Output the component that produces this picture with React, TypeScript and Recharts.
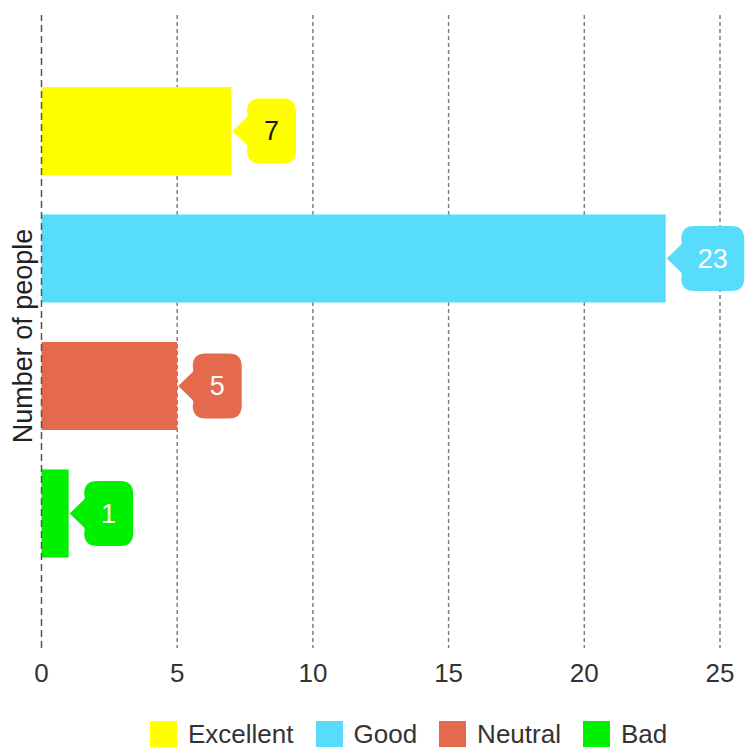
import React from 'react';
import {
  BarChart,
  Bar,
  Cell,
  XAxis,
  YAxis,
  CartesianGrid,
  ReferenceLine,
  LabelList,
  Legend,
} from 'recharts';

const categories = ['Excellent', 'Good', 'Neutral', 'Bad'];
const counts = [7, 23, 5, 1];
const barColors = ['#FFFF00', '#57DDFB', '#E5694C', '#00F000'];
const labelTextColors = ['#1a1a1a', '#ffffff', '#ffffff', '#ffffff'];
const xTicks = [0, 5, 10, 15, 20, 25];
const gridValues = [5, 10, 15, 20, 25];

const data = categories.map((name, i) => ({ name, count: counts[i] }));

const FONT = '"Liberation Sans", Arial, sans-serif';

// speech-bubble style value label pointing back at the bar end
function BubbleLabel(props: any) {
  const { x, y, width, height, value, index } = props;
  const bx = Number(x) + Number(width);
  const cy = Number(y) + Number(height) / 2;
  const digits = String(value).length;
  const w = 35 + 14 * digits;
  const h = 65;
  const r = 13;
  const left = bx + 15.5;
  const right = left + w;
  const top = cy - h / 2;
  const bottom = cy + h / 2;
  const d = [
    `M ${bx + 1} ${cy}`,
    `L ${left} ${cy - 14}`,
    `Q ${left + 1} ${cy - 16} ${left} ${cy - 20}`,
    `L ${left} ${top + r}`,
    `Q ${left} ${top} ${left + r} ${top}`,
    `L ${right - r} ${top}`,
    `Q ${right} ${top} ${right} ${top + r}`,
    `L ${right} ${bottom - r}`,
    `Q ${right} ${bottom} ${right - r} ${bottom}`,
    `L ${left + r} ${bottom}`,
    `Q ${left} ${bottom} ${left} ${bottom - r}`,
    `L ${left} ${cy + 20}`,
    `Q ${left + 1} ${cy + 16} ${left} ${cy + 14}`,
    'Z',
  ].join(' ');
  return (
    <g>
      <path d={d} fill={barColors[index]} />
      <text
        x={left + w / 2}
        y={cy}
        textAnchor="middle"
        dominantBaseline="central"
        fontSize={27}
        fontFamily={FONT}
        fill={labelTextColors[index]}
      >
        {value}
      </text>
    </g>
  );
}

function LegendRow() {
  return (
    <div
      style={{
        display: 'flex',
        alignItems: 'center',
        paddingLeft: 150,
        paddingTop: 24,
        height: 52,
        boxSizing: 'border-box',
        fontFamily: FONT,
        fontSize: 26,
        color: '#333',
      }}
    >
      {categories.map((name, i) => (
        <div key={name} style={{ display: 'flex', alignItems: 'center', marginRight: 22 }}>
          <span
            style={{
              display: 'inline-block',
              width: 27,
              height: 26,
              background: barColors[i],
              marginRight: 11,
            }}
          />
          <span style={{ lineHeight: '26px' }}>{name}</span>
        </div>
      ))}
    </div>
  );
}

function YTitle() {
  return (
    <text
      x={32}
      y={336}
      transform="rotate(-90 32 336)"
      textAnchor="middle"
      fontSize={27}
      fontFamily={FONT}
      fill="#222"
    >
      Number of people
    </text>
  );
}

export default function App() {
  return (
    <div style={{ position: 'absolute', left: 0, top: 0, fontFamily: FONT }}>
      <BarChart
        width={745}
        height={748}
        data={data}
        layout="vertical"
        margin={{ top: 15, right: 25, left: 0, bottom: 0 }}
      >
        <CartesianGrid
          horizontal={false}
          verticalValues={gridValues}
          stroke="#808080"
          strokeWidth={1.5}
          strokeDasharray="4 3"
        />
        <XAxis
          type="number"
          domain={[0, 25]}
          ticks={xTicks}
          axisLine={false}
          tickLine={false}
          height={48}
          tickMargin={10}
          tick={{ fontSize: 26, fill: '#333', fontFamily: FONT }}
        />
        <YAxis
          type="category"
          dataKey="name"
          width={41.5}
          axisLine={false}
          tickLine={false}
          tick={false}
          padding={{ top: 52, bottom: 71 }}
          label={{ content: () => <YTitle /> }}
        />
        <Legend verticalAlign="bottom" content={() => <LegendRow />} />
        <Bar dataKey="count" barSize={88} isAnimationActive={false}>
          {data.map((d, i) => (
            <Cell key={d.name} fill={barColors[i]} />
          ))}
          <LabelList dataKey="count" content={<BubbleLabel />} />
        </Bar>
        <ReferenceLine x={0} stroke="#555" strokeWidth={1.5} strokeDasharray="7 4" />
      </BarChart>
    </div>
  );
}
